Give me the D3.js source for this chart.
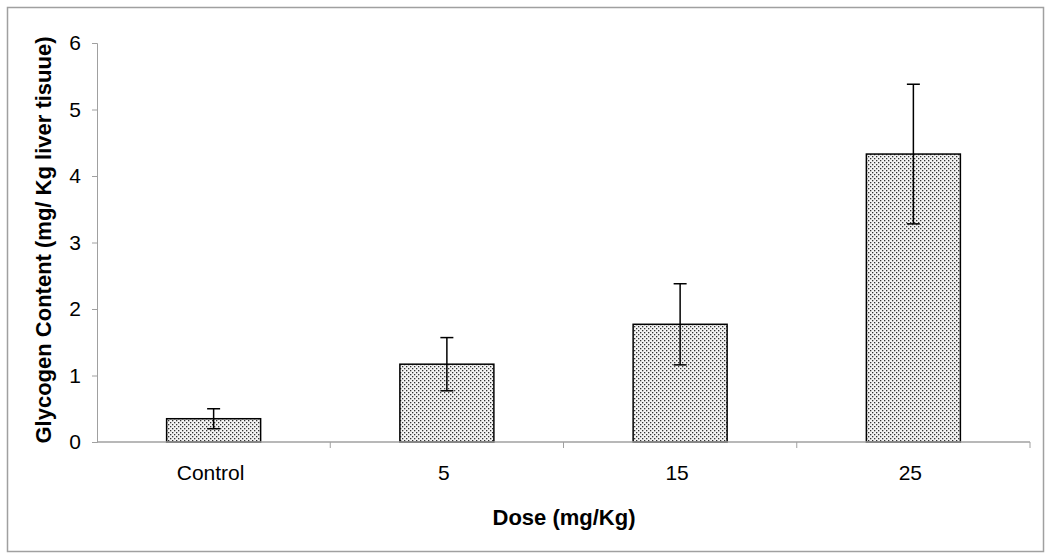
<!DOCTYPE html>
<html>
<head>
<meta charset="utf-8">
<script src="https://cdn.jsdelivr.net/npm/d3@7"></script>
<style>
  body { margin: 0; background: #fff; }
  text { font-family: "Liberation Sans", Arial, sans-serif; }
</style>
</head>
<body>
<svg id="chart" width="1050" height="559"></svg>
<script>
var categories = ["Control", "5", "15", "25"]
var means = [0.35, 1.17, 1.77, 4.33]
var errors = [0.15, 0.40, 0.61, 1.05]
var yTicks = [0, 1, 2, 3, 4, 5, 6]

var svg = d3.select("#chart")
var margin = {left: 97, right: 17, top: 43, bottom: 117}
var W = 1050, H = 559

// outer frame
svg.append("rect")
    .attr("x", 7.5).attr("y", 7.5)
    .attr("width", 1036).attr("height", 544)
    .attr("fill", "#fff")
    .attr("stroke", "#a0a0a0")
    .attr("stroke-width", 1.5)

var defs = svg.append("defs")
var pat = defs.append("pattern")
    .attr("id", "dots")
    .attr("patternUnits", "userSpaceOnUse")
    .attr("width", 4).attr("height", 4)
pat.append("rect").attr("width", 4).attr("height", 4).attr("fill", "#f4f4f4")
pat.append("rect").attr("x", 0).attr("y", 0).attr("width", 1.3).attr("height", 1.3).attr("fill", "#333")
pat.append("rect").attr("x", 2).attr("y", 2).attr("width", 1.3).attr("height", 1.3).attr("fill", "#333")

var band = d3.scaleBand().domain(categories).range([margin.left, W - margin.right - 3])

var y = d3.scaleLinear()
    .domain([0, 6])
    .range([H - margin.bottom, margin.top])

// y axis
var yAxis = svg.append("g")
    .attr("transform", "translate(" + margin.left + ",0)")
    .call(d3.axisLeft(y).tickValues(yTicks).tickSize(5).tickPadding(11).tickFormat(d3.format("d")))
yAxis.select(".domain").attr("stroke", "#a0a0a0")
yAxis.selectAll(".tick line").attr("stroke", "#a0a0a0")
yAxis.selectAll("text").style("font-size", "21px").attr("fill", "#000")

// bars
svg.selectAll(".bar")
    .data(categories)
    .enter()
    .append("rect")
    .attr("class", "bar")
    .attr("x", function(d) { return band(d) + band.bandwidth() / 2 - 47 })
    .attr("width", 94)
    .attr("y", function(d, i) { return y(means[i]) })
    .attr("height", function(d, i) { return y(0) - y(means[i]) })
    .attr("fill", "url(#dots)")
    .attr("stroke", "#000")
    .attr("stroke-width", 1.5)

// x axis
var xAxis = svg.append("g")
    .attr("transform", "translate(0," + y(0) + ")")
xAxis.append("line")
    .attr("x1", band.range()[0]).attr("x2", band.range()[1])
    .attr("stroke", "#a0a0a0").attr("stroke-width", 1.5)
var bounds = categories.map(function(d) { return band(d) }).concat([band.range()[1]])
xAxis.selectAll(".xtick")
    .data(bounds.slice(1))
    .enter()
    .append("line")
    .attr("x1", function(d) { return d }).attr("x2", function(d) { return d })
    .attr("y1", 0).attr("y2", 6)
    .attr("stroke", "#a0a0a0")
xAxis.selectAll(".xlab")
    .data(categories)
    .enter()
    .append("text")
    .attr("x", function(d) { return band(d) + band.bandwidth() / 2 - 3 })
    .attr("y", 38)
    .attr("text-anchor", "middle")
    .style("font-size", "21px")
    .text(function(d) { return d })

// error bars
var eb = svg.selectAll(".err")
    .data(categories)
    .enter()
    .append("g")
    .attr("stroke", "#000")
    .attr("stroke-width", 1.5)
eb.each(function(d, i) {
    var el = d3.select(this)
    var cx = band(d) + band.bandwidth() / 2
    el.append("line").attr("x1", cx).attr("x2", cx)
        .attr("y1", y(means[i] + errors[i])).attr("y2", y(means[i] - errors[i]))
    el.append("line").attr("x1", cx - 6.5).attr("x2", cx + 6.5)
        .attr("y1", y(means[i] + errors[i])).attr("y2", y(means[i] + errors[i]))
    el.append("line").attr("x1", cx - 6.5).attr("x2", cx + 6.5)
        .attr("y1", y(means[i] - errors[i])).attr("y2", y(means[i] - errors[i]))
})

// axis titles
svg.append("text")
    .attr("x", 564).attr("y", 525)
    .attr("text-anchor", "middle")
    .style("font-size", "22px").style("font-weight", "bold")
    .text("Dose (mg/Kg)")
svg.append("text")
    .attr("transform", "translate(51,240) rotate(-90)")
    .attr("text-anchor", "middle")
    .style("font-size", "22px").style("font-weight", "bold")
    .text("Glycogen Content (mg/ Kg liver tisuue)")
</script>
</body>
</html>
